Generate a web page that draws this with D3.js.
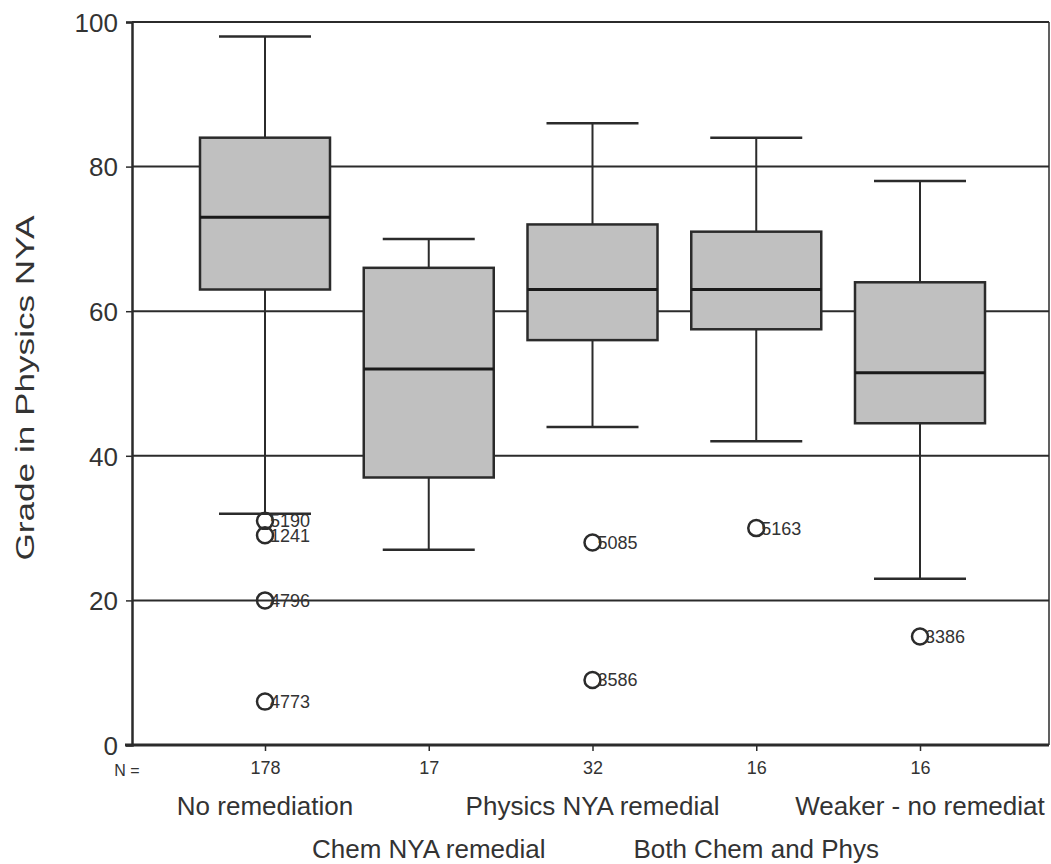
<!DOCTYPE html>
<html>
<head>
<meta charset="utf-8">
<script src="https://cdn.jsdelivr.net/npm/d3@7"></script>
<style>
	body { margin: 0; background: #fff; }
	svg { display: block; font-family: "Liberation Sans", Arial, sans-serif; }
	text { fill: #333; }
</style>
</head>
<body>
<svg id="chart" width="1051" height="864"></svg>
<script>
// groups, shown in two staggered rows under the axis
var categories = ["No remediation", "Chem NYA remedial", "Physics NYA remedial", "Both Chem and Phys", "Weaker - no remediat"];
var counts = [178, 17, 32, 16, 16];

// box statistics
var whiskerLow  = [32, 27, 44, 42, 23];
var q1          = [63, 37, 56, 57.5, 44.5];
var medians     = [73, 52, 63, 63, 51.5];
var q3          = [84, 66, 72, 71, 64];
var whiskerHigh = [98, 70, 86, 84, 78];

// outliers: group index, value, case id
var outlierGroup = [0, 0, 0, 0, 2, 2, 3, 4];
var outlierValue = [31, 29, 20, 6, 28, 9, 30, 15];
var outlierId    = ["5190", "1241", "4796", "4773", "5085", "3586", "5163", "3386"];

var yTicks = [0, 20, 40, 60, 80, 100];

var drawChart = function() {
	var svg = d3.select("#chart");
	var plotLeft = 132, plotRight = 1049, plotTop = 22, plotBottom = 745;
	var boxW = 130, capW = 92;

	var y = d3.scaleLinear().domain([0, 100]).range([plotBottom, plotTop]);
	var x = d3.scalePoint().domain(categories).range([265, 920]);

	/* gridlines */
	svg.append("g")
		.selectAll("line")
		.data(yTicks.filter(function(d) { return d > 0; }))
		.enter().append("line")
		.attr("x1", plotLeft).attr("x2", plotRight)
		.attr("y1", function(d) { return y(d); })
		.attr("y2", function(d) { return y(d); })
		.attr("stroke", "#2b2b2b")
		.attr("stroke-width", 2);

	/* right frame edge */
	svg.append("line")
		.attr("x1", plotRight).attr("x2", plotRight)
		.attr("y1", plotTop).attr("y2", plotBottom)
		.attr("stroke", "#2b2b2b").attr("stroke-width", 1.5);

	/* y axis */
	var yAxis = svg.append("g")
		.attr("transform", "translate(" + plotLeft + ",0)")
		.call(d3.axisLeft(y).tickValues(yTicks).tickSize(6).tickPadding(8));
	yAxis.select(".domain").attr("stroke", "#2b2b2b").attr("stroke-width", 2.5);
	yAxis.selectAll(".tick line").attr("stroke", "#2b2b2b").attr("stroke-width", 1.5);
	yAxis.selectAll(".tick text")
		.attr("font-size", 26)
		.attr("fill", "#333")
		.attr("dy", "0.36em");

	/* x axis with N counts as tick labels */
	var xAxis = svg.append("g")
		.attr("transform", "translate(0," + plotBottom + ")")
		.call(d3.axisBottom(x).tickSize(6).tickPadding(10)
			.tickFormat(function(d, i) { return counts[i]; }));
	xAxis.select(".domain").attr("d", "M" + (plotLeft - 7) + ",0H" + plotRight)
		.attr("stroke", "#2b2b2b").attr("stroke-width", 3);
	xAxis.selectAll(".tick line").attr("stroke", "#2b2b2b").attr("stroke-width", 1.5);
	xAxis.selectAll(".tick text").attr("font-size", 18).attr("fill", "#333");

	svg.append("text")
		.attr("x", 127).attr("y", 776)
		.attr("text-anchor", "middle")
		.attr("font-size", 16)
		.text("N =");

	/* category labels, staggered */
	svg.append("g")
		.selectAll("text")
		.data(categories)
		.enter().append("text")
		.attr("x", function(d) { return x(d); })
		.attr("y", function(d, i) { return i % 2 === 0 ? 815 : 858; })
		.attr("text-anchor", "middle")
		.attr("font-size", 26)
		.text(function(d) { return d; });

	/* y label */
	svg.append("text")
		.attr("transform", "translate(34,388) rotate(-90)")
		.attr("text-anchor", "middle")
		.attr("font-size", 26)
		.attr("textLength", 345)
		.attr("lengthAdjust", "spacingAndGlyphs")
		.text("Grade in Physics NYA");

	/* boxes */
	var boxes = svg.append("g")
		.selectAll("g")
		.data(categories)
		.enter().append("g");

	boxes.append("line")
		.attr("x1", function(d) { return x(d); })
		.attr("x2", function(d) { return x(d); })
		.attr("y1", function(d, i) { return y(whiskerLow[i]); })
		.attr("y2", function(d, i) { return y(whiskerHigh[i]); })
		.attr("stroke", "#2b2b2b").attr("stroke-width", 2);

	boxes.selectAll(".cap")
		.data(function(d, i) { return [whiskerLow[i], whiskerHigh[i]].map(function(v) { return { c: d, v: v }; }); })
		.enter().append("line")
		.attr("class", "cap")
		.attr("x1", function(d) { return x(d.c) - capW / 2; })
		.attr("x2", function(d) { return x(d.c) + capW / 2; })
		.attr("y1", function(d) { return y(d.v); })
		.attr("y2", function(d) { return y(d.v); })
		.attr("stroke", "#2b2b2b").attr("stroke-width", 2.5);

	boxes.append("rect")
		.attr("x", function(d) { return x(d) - boxW / 2; })
		.attr("width", boxW)
		.attr("y", function(d, i) { return y(q3[i]); })
		.attr("height", function(d, i) { return y(q1[i]) - y(q3[i]); })
		.attr("fill", "#c0c0c0")
		.attr("stroke", "#2b2b2b")
		.attr("stroke-width", 2.5);

	boxes.append("line")
		.attr("x1", function(d) { return x(d) - boxW / 2; })
		.attr("x2", function(d) { return x(d) + boxW / 2; })
		.attr("y1", function(d, i) { return y(medians[i]); })
		.attr("y2", function(d, i) { return y(medians[i]); })
		.attr("stroke", "#1a1a1a").attr("stroke-width", 3);

	/* outliers */
	var outs = svg.append("g")
		.selectAll("g")
		.data(outlierId)
		.enter().append("g")
		.attr("transform", function(d, i) {
			return "translate(" + x(categories[outlierGroup[i]]) + "," + y(outlierValue[i]) + ")";
		});

	outs.append("circle")
		.attr("r", 8)
		.attr("fill", "none")
		.attr("stroke", "#2b2b2b")
		.attr("stroke-width", 2.5);

	outs.append("text")
		.attr("x", 5)
		.attr("dy", "0.36em")
		.attr("font-size", 18)
		.text(function(d) { return d; });
}

drawChart();
</script>
</body>
</html>
